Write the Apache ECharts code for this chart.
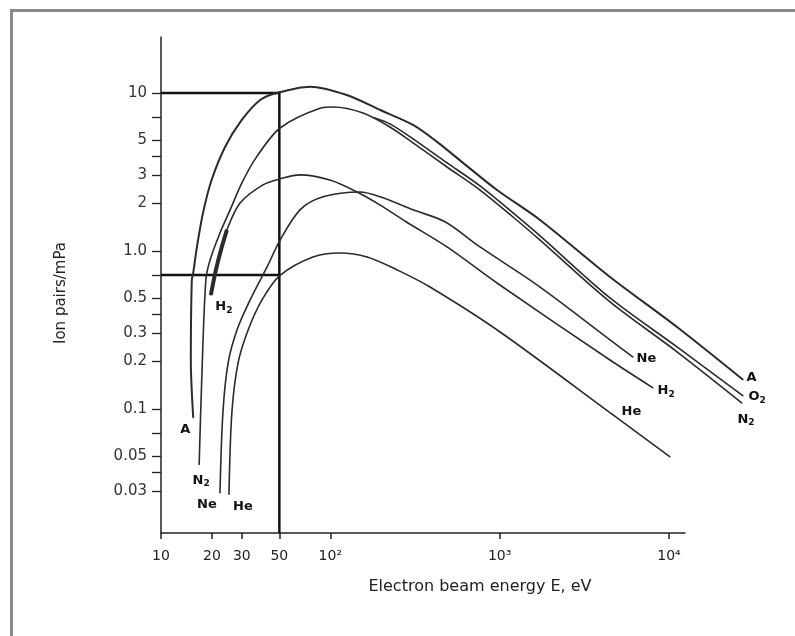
<!DOCTYPE html>
<html>
<head>
<meta charset="utf-8">
<script src="https://cdn.jsdelivr.net/npm/echarts@6/dist/echarts.min.js"></script>
<style>
  html, body { margin: 0; padding: 0; background: #fff; overflow: hidden; }
  #frame {
    position: absolute; left: 10px; top: 9px; width: 790px; height: 640px;
    border-top: 3px solid #8a8a8a; border-left: 3px solid #8a8a8a;
  }
  #chart { position: absolute; left: 0; top: 0; width: 795px; height: 636px; }
</style>
</head>
<body>
<div id="frame"></div>
<div id="chart"></div>
<script>
// axis ticks
const xTickValues = [10, 20, 30, 50, 100, 1000, 10000];
const xTickLabels = ["10", "20", "30", "50", "10²", "10³", "10⁴"];
const yLabelValues = [0.03, 0.05, 0.1, 0.2, 0.3, 0.5, 1, 2, 3, 5, 10];
const yLabelTexts = ["0.03", "0.05", "0.1", "0.2", "0.3", "0.5", "1.0", "2", "3", "5", "10"];
const yTickValues = [0.03, 0.04, 0.05, 0.07, 0.1, 0.2, 0.3, 0.4, 0.5, 0.7, 1, 2, 3, 4, 5, 7, 10];

// curves (energy in eV, ion pairs per mPa)
const aEnergy = [15.5, 15.0, 15.2, 15.5, 16.3, 17.7, 19.9, 23.9, 30.0, 38.5, 48.2, 75.9, 125, 197, 308, 427, 608, 965, 1733, 4487, 11160, 27400];
const aIons = [0.088, 0.204, 0.655, 0.726, 1.06, 1.74, 2.81, 4.55, 6.75, 9.03, 10.0, 10.96, 9.71, 7.8, 6.27, 4.9, 3.61, 2.43, 1.57, 0.684, 0.33, 0.153];

const n2Energy = [16.8, 17.4, 18.4, 19.5, 22.3, 25.6, 30.0, 36.7, 50.5, 86.9, 104, 156, 225, 308, 489, 766, 1200, 1733, 4487, 11160, 27000];
const n2Ions = [0.0443, 0.153, 0.655, 0.877, 1.3, 1.82, 2.69, 3.94, 6.0, 8.0, 8.15, 7.47, 6.09, 4.83, 3.4, 2.43, 1.64, 1.17, 0.476, 0.23, 0.109];

const o2Energy = [180, 225, 308, 489, 766, 1200, 1733, 4487, 11160, 27400];
const o2Ions = [7.0, 6.37, 5.12, 3.61, 2.58, 1.74, 1.245, 0.504, 0.247, 0.121];

const h2Energy = [19.7, 21.1, 22.6, 24.5, 29.3, 40.0, 50.5, 66.2, 99.5, 144, 197, 280, 489, 979, 4487, 8050];
const h2Ions = [0.527, 0.759, 1.015, 1.36, 2.01, 2.62, 2.86, 3.03, 2.81, 2.36, 1.95, 1.53, 1.06, 0.62, 0.204, 0.136];

const neEnergy = [22.3, 23.2, 24.9, 28.1, 33.6, 42.3, 50.5, 66.2, 90.6, 150, 197, 308, 476, 766, 1733, 4487, 6140];
const neIons = [0.0294, 0.0944, 0.195, 0.316, 0.49, 0.792, 1.17, 1.82, 2.2, 2.36, 2.2, 1.82, 1.53, 1.06, 0.591, 0.274, 0.213];

const heEnergy = [25.2, 26.2, 28.5, 32.7, 39.5, 50.5, 79, 114, 165, 248, 388, 1006, 4680, 10150];
const heIons = [0.0287, 0.094, 0.195, 0.316, 0.49, 0.7, 0.916, 0.971, 0.916, 0.759, 0.591, 0.307, 0.0916, 0.0497];

// guide box at 50 eV
const boxEnergy = [10, 50, 50];
const boxIons = [10, 10, 0.0164];
const lowEnergy = [10, 50];
const lowIons = [0.705, 0.705];

const X_MIN = 10, X_MAX = 12440, Y_MIN = 0.0164, Y_MAX = 22.6;
const GRID_LEFT = 161, GRID_RIGHT = 110, GRID_TOP = 37, GRID_BOTTOM = 103;
const CHART_W = 795;

// the curves run past the end of the drawn axis, so they sit on a wider
// hidden axis with the same pixels per decade
const plotW = CHART_W - GRID_LEFT - GRID_RIGHT;
const wideW = CHART_W - GRID_LEFT;
const wideMax = X_MIN * Math.pow(X_MAX / X_MIN, wideW / plotW);

const chart = echarts.init(document.getElementById("chart"));

const labelFont = {
  color: "#111",
  fontSize: 13,
  fontWeight: "bold",
  fontFamily: "DejaVu Sans",
  rich: {
    s: { fontSize: 9, fontWeight: "bold", fontFamily: "DejaVu Sans", color: "#111", padding: [7, 0, 0, 0] },
  },
};

function nearest(values, v) {
  let best = 0;
  values.forEach((t, i) => {
    if (Math.abs(Math.log(t) - Math.log(v)) < Math.abs(Math.log(values[best]) - Math.log(v))) best = i;
  });
  return best;
}

function build(energy, ions, startLabel, endLabel) {
  const data = energy.map((e, i) => [e, ions[i]]);
  if (startLabel) data[0] = { value: data[0], label: Object.assign({ show: true }, labelFont, startLabel) };
  if (endLabel) {
    const k = endLabel.index != null ? endLabel.index : data.length - 1;
    data[k] = { value: data[k].value || data[k], label: Object.assign({ show: true }, labelFont, endLabel) };
  }
  return data;
}

function curve(name, data, width) {
  return {
    name: name,
    type: "line",
    xAxisIndex: 1,
    yAxisIndex: 1,
    smooth: 0.3,
    clip: false,
    symbol: "circle",
    symbolSize: 1,
    showSymbol: true,
    itemStyle: { color: "#2b2b2b" },
    lineStyle: { color: "#2b2b2b", width: width || 1.6 },
    label: { show: false },
    data: data,
  };
}

const option = {
  animation: false,
  backgroundColor: "transparent",
  grid: [
    { left: GRID_LEFT, right: GRID_RIGHT, top: GRID_TOP, bottom: GRID_BOTTOM },
    { left: GRID_LEFT, right: 0, top: GRID_TOP, bottom: GRID_BOTTOM },
  ],
  xAxis: [
    {
      type: "log",
      logBase: 10,
      min: X_MIN,
      max: X_MAX,
      name: "Electron beam energy E, eV",
      nameLocation: "middle",
      nameGap: 46,
      nameTextStyle: { color: "#222", fontSize: 16, fontFamily: "DejaVu Sans", padding: [0, 0, 0, 114] },
      axisLine: { lineStyle: { color: "#222", width: 1.5 } },
      axisTick: { customValues: xTickValues, length: 6, lineStyle: { color: "#222", width: 1.5 } },
      axisLabel: {
        customValues: xTickValues,
        margin: 16,
        color: "#222",
        fontSize: 14,
        fontFamily: "DejaVu Sans",
        formatter: (v) => xTickLabels[nearest(xTickValues, v)],
      },
      splitLine: { show: false },
      minorTick: { show: false },
    },
    { type: "log", logBase: 10, gridIndex: 1, min: X_MIN, max: wideMax, show: false },
  ],
  yAxis: [
    {
      type: "log",
      logBase: 10,
      min: Y_MIN,
      max: Y_MAX,
      name: "Ion pairs/mPa",
      nameLocation: "middle",
      nameGap: 92,
      nameTextStyle: { color: "#222", fontSize: 15, fontFamily: "DejaVu Sans", padding: [0, 16, 0, 0] },
      axisLine: { lineStyle: { color: "#222", width: 1.5 } },
      axisTick: { customValues: yTickValues, length: 9, lineStyle: { color: "#222", width: 1.3 } },
      axisLabel: {
        customValues: yLabelValues,
        margin: 14,
        color: "#333",
        fontSize: 15,
        fontFamily: "DejaVu Sans",
        formatter: (v) => yLabelTexts[nearest(yLabelValues, v)],
      },
      splitLine: { show: false },
      minorTick: { show: false },
    },
    { type: "log", logBase: 10, gridIndex: 1, min: Y_MIN, max: Y_MAX, show: false },
  ],
  series: [
    {
      type: "line",
      clip: false,
      symbol: "none",
      lineStyle: { color: "#111", width: 2.5 },
      data: boxEnergy.map((e, i) => [e, boxIons[i]]),
    },
    {
      type: "line",
      clip: false,
      symbol: "none",
      lineStyle: { color: "#111", width: 2.5 },
      data: lowEnergy.map((e, i) => [e, lowIons[i]]),
    },
    curve("A", build(aEnergy, aIons,
      { formatter: "A", position: "bottom", distance: 5, offset: [-8, 0] },
      { formatter: "A", position: "right", distance: 3, offset: [0, -2] }), 2),
    curve("N2", build(n2Energy, n2Ions,
      { formatter: "N{s|2}", position: "bottom", distance: 7, offset: [2, 0] },
      { formatter: "N{s|2}", position: "bottom", distance: 8, offset: [4, 0] })),
    curve("O2", build(o2Energy, o2Ions, null,
      { formatter: "O{s|2}", position: "right", distance: 5, offset: [0, 1] })),
    curve("H2", build(h2Energy, h2Ions,
      { formatter: "H{s|2}", position: "right", distance: 4, offset: [0, 12] },
      { formatter: "H{s|2}", position: "right", distance: 4, offset: [0, 3] })),
    curve("H2 start", build(h2Energy.slice(0, 4), h2Ions.slice(0, 4)), 4),
    curve("Ne", build(neEnergy, neIons,
      { formatter: "Ne", position: "bottom", distance: 5, offset: [-13, 0] },
      { formatter: "Ne", position: "right", distance: 3, offset: [0, 2] })),
    curve("He", build(heEnergy, heIons,
      { formatter: "He", position: "bottom", distance: 5, offset: [14, 0] },
      { formatter: "He", position: "right", distance: 8, offset: [0, -3], index: 12 })),
  ],
};

chart.setOption(option);
</script>
</body>
</html>
